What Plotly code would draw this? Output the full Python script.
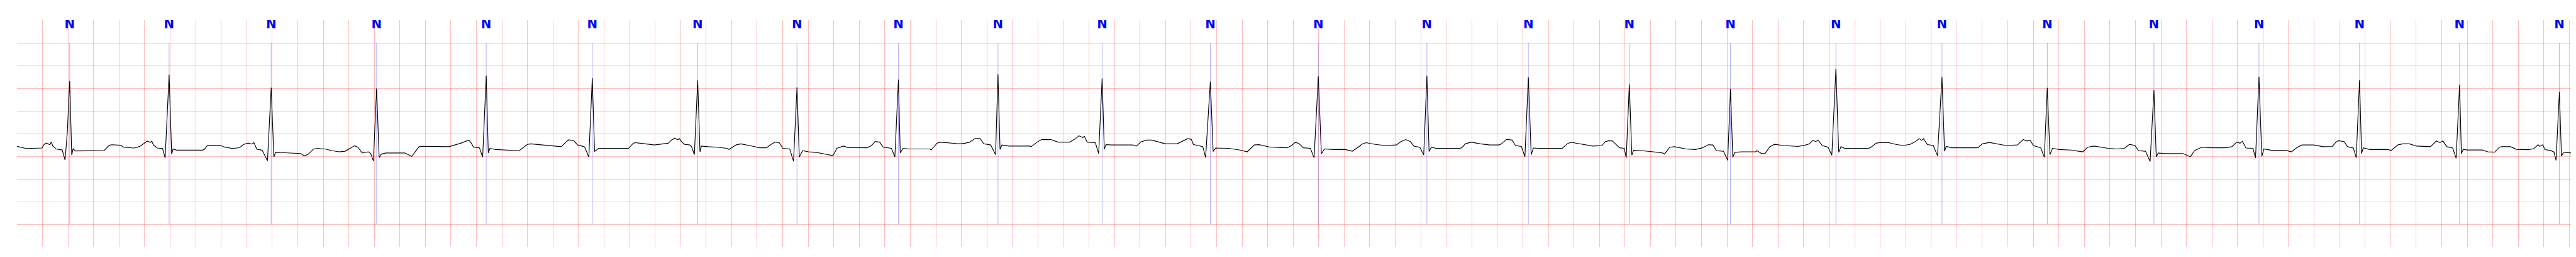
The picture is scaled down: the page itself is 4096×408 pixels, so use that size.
import plotly.graph_objects as go

# ---- ECG trace (time in s, amplitude in mV) ----
ecg_t = [
    0.000, 0.073, 0.196, 0.213, 0.231, 0.258, 0.269, 0.281, 0.306, 0.354, 0.377, 0.395, 0.413, 0.429, 0.440, 0.456,
    0.682, 0.723, 0.744, 0.812, 0.840, 0.922, 0.963, 0.990, 1.020, 1.045, 1.056, 1.070, 1.100, 1.141, 1.161, 1.192,
    1.212, 1.223, 1.250, 1.456, 1.469, 1.490, 1.510, 1.593, 1.620, 1.688, 1.743, 1.777, 1.812, 1.839, 1.857, 1.880,
    1.921, 1.963, 1.992, 2.013,
    2.026, 2.068, 2.141, 2.223, 2.251, 2.278, 2.324, 2.351, 2.415, 2.470, 2.525, 2.571, 2.617, 2.644, 2.672, 2.705,
    2.754, 2.772, 2.793, 2.818, 2.838, 2.855, 2.891, 3.038, 3.093, 3.151, 3.184, 3.386, 3.477, 3.541, 3.560, 3.578,
    3.624, 3.649, 3.677, 3.693, 3.706, 3.752, 3.935, 3.999, 4.027, 4.265, 4.301, 4.323, 4.365, 4.393, 4.448, 4.481,
    4.508, 4.526, 4.558, 4.792,
    4.829, 4.847, 4.994, 5.067, 5.103, 5.131, 5.155, 5.177, 5.191, 5.210, 5.232, 5.272, 5.286, 5.308, 5.334, 5.352,
    5.363, 5.415, 5.488, 5.561, 5.579, 5.634, 5.671, 5.762, 5.817, 5.872, 5.909, 5.942, 5.973, 6.001, 6.055, 6.085,
    6.112, 6.130, 6.156, 6.202, 6.257, 6.312, 6.367, 6.394, 6.425, 6.476, 6.513, 6.660, 6.696, 6.724, 6.760, 6.788,
    6.852, 6.879, 6.907, 6.921, 6.943, 6.989, 7.154, 7.163, 7.209, 7.227, 7.392, 7.429, 7.465, 7.511, 7.548, 7.575,
    7.630, 7.668,
    7.687, 7.703, 7.718, 7.773, 7.938, 7.947, 7.993, 8.029, 8.102, 8.157, 8.249, 8.295, 8.322, 8.350, 8.364, 8.386,
    8.450, 8.463, 8.476, 8.503, 8.520, 8.533, 8.578, 8.743, 8.771, 8.807, 8.853, 8.890, 8.945, 9.000, 9.091, 9.128,
    9.173, 9.201, 9.219, 9.256, 9.292, 9.314, 9.351, 9.373, 9.393, 9.494, 9.549, 9.585, 9.640, 9.695, 9.732, 9.823,
    9.952, 9.988, 10.016, 10.043, 10.080, 10.135, 10.164, 10.197, 10.221, 10.245, 10.318, 10.409, 10.464, 10.528,
    10.534, 10.571, 10.644, 10.717, 10.809, 10.845, 10.882, 10.918, 10.946, 10.992, 11.023, 11.048, 11.065, 11.083,
    11.120, 11.303, 11.321, 11.349, 11.394, 11.468, 11.541, 11.614, 11.632, 11.673, 11.715, 11.742, 11.788, 11.816,
    11.843, 11.865, 11.883, 11.925, 12.108, 12.154, 12.182, 12.273, 12.346, 12.420, 12.447, 12.475, 12.502, 12.520,
    12.557, 12.594, 12.610, 12.634, 12.654, 12.667, 12.731, 12.822, 12.896, 12.909, 12.951, 12.987, 13.079, 13.152,
    13.207, 13.253, 13.289, 13.317, 13.372, 13.405,
    13.427, 13.445, 13.460, 13.515, 13.625, 13.634, 13.670, 13.698, 13.735, 13.771, 13.844, 13.954, 14.009, 14.046,
    14.073, 14.092, 14.115, 14.146, 14.192, 14.221, 14.253, 14.275, 14.293, 14.320, 14.503, 14.522, 14.568, 14.595,
    14.668, 14.723, 14.778, 14.833, 14.870, 14.906, 14.925, 14.939, 14.970, 15.016, 15.049, 15.084, 15.104, 15.117,
    15.163, 15.364, 15.401, 15.455, 15.510, 15.584, 15.675, 15.721, 15.748, 15.776, 15.800, 15.858, 15.886, 15.909,
    15.930, 15.950, 16.005, 16.096, 16.188, 16.224, 16.276,
    16.331, 16.386, 16.459, 16.514, 16.541, 16.554, 16.596, 16.624, 16.679, 16.715, 16.745, 16.763, 16.779, 16.825,
    16.972, 17.008, 17.030, 17.063, 17.118, 17.191, 17.301, 17.356, 17.393, 17.420, 17.438, 17.466, 17.521, 17.541,
    17.568, 17.590, 17.607, 17.667, 17.777, 17.823, 17.869, 17.905, 17.997, 18.070, 18.143, 18.171, 18.189, 18.235,
    18.262, 18.308, 18.330, 18.356, 18.372, 18.385, 18.436, 18.583, 18.601, 18.656, 18.693, 18.747, 18.802, 18.912,
    18.958, 18.985, 19.009, 19.040, 19.086, 19.113,
    19.140, 19.154, 19.169, 19.200, 19.317, 19.361, 19.415, 19.451, 19.469, 19.540, 19.585, 19.675, 19.719, 19.755,
    19.768, 19.791, 19.809, 19.853, 19.880, 19.896, 19.922, 19.938, 19.952, 19.987, 20.032, 20.062,
]
ecg_mv = [
    -0.283, -0.330, -0.319, -0.239, -0.211, -0.247, -0.185, -0.276, -0.341, -0.362, -0.583, 0.050, 1.159, -0.474, -0.330, -0.384,
    -0.377, -0.258, -0.247, -0.258, -0.305, -0.319, -0.283, -0.232, -0.167, -0.196, -0.167, -0.258, -0.319, -0.330, -0.539, 1.297,
    -0.456, -0.341, -0.366, -0.366, -0.348, -0.268, -0.258, -0.258, -0.294, -0.330, -0.312, -0.240, -0.211, -0.232, -0.203, -0.348,
    -0.366, -0.601, 1.010, -0.517,
    -0.415, -0.420, -0.428, -0.441, -0.491, -0.466, -0.340, -0.330, -0.340, -0.378, -0.403, -0.390, -0.315, -0.269, -0.302, -0.428,
    -0.403, -0.441, -0.604, 0.994, -0.531, -0.453, -0.428, -0.428, -0.504, -0.290, -0.282, -0.290, -0.214, -0.144, -0.214, -0.302,
    -0.315, -0.521, 1.276, -0.428, -0.327, -0.352, -0.378, -0.239, -0.227, -0.290, -0.189, -0.138, -0.164, -0.252, -0.295, -0.521,
    1.221, -0.395, -0.327, -0.327,
    -0.214, -0.201, -0.252, -0.227, -0.214, -0.138, -0.101, -0.138, -0.113, -0.189, -0.239, -0.252, -0.290, -0.466, 1.171, -0.403,
    -0.277, -0.290, -0.302, -0.327, -0.352, -0.252, -0.227, -0.277, -0.315, -0.315, -0.239, -0.189, -0.201, -0.327, -0.340, -0.612,
    1.020, -0.516, -0.378, -0.403, -0.415, -0.441, -0.478, -0.486, -0.327, -0.277, -0.310, -0.315, -0.264, -0.176, -0.189, -0.302,
    -0.327, -0.516, 1.188, -0.428, -0.327, -0.340, -0.340, -0.365, -0.214, -0.189, -0.227, -0.214, -0.189, -0.101, -0.113, -0.227,
    -0.252, -0.466,
    1.304, -0.352, -0.252, -0.277, -0.277, -0.290, -0.189, -0.133, -0.133, -0.189, -0.189, -0.113, -0.050, -0.088, -0.063, -0.189,
    -0.201, -0.315, -0.441, 1.219, -0.345, -0.244, -0.252, -0.252, -0.277, -0.184, -0.144, -0.144, -0.189, -0.227, -0.227, -0.176,
    -0.113, -0.126, -0.244, -0.264, -0.290, -0.529, 1.146, -0.395, -0.320, -0.327, -0.352, -0.365, -0.403, -0.252, -0.244, -0.302,
    -0.315, -0.264, -0.196, -0.214, -0.315, -0.327, -0.536, 1.259, -0.446, -0.340, -0.352, -0.352, -0.390, -0.264,
    -0.239, -0.201, -0.239, -0.264, -0.252, -0.176, -0.133, -0.176, -0.277, -0.302, -0.471, 1.271, -0.395, -0.302,
    -0.327, -0.327, -0.315, -0.227, -0.189, -0.227, -0.252, -0.252, -0.227, -0.126, -0.144, -0.264, -0.284, -0.511,
    1.241, -0.466, -0.320, -0.327, -0.327, -0.214, -0.194, -0.239, -0.277, -0.264, -0.176, -0.159, -0.164, -0.214,
    -0.315, -0.327, -0.536, 1.083, -0.478, -0.370, -0.378, -0.403, -0.428, -0.453, -0.302, -0.290, -0.340, -0.352,
    -0.315, -0.247, -0.252, -0.378, -0.390, -0.590,
    0.982, -0.529, -0.415, -0.403, -0.403, -0.378, -0.441, -0.441, -0.290, -0.239, -0.264, -0.284, -0.259, -0.227,
    -0.144, -0.176, -0.151, -0.264, -0.302, -0.478, 1.422, -0.415, -0.290, -0.327, -0.327, -0.315, -0.214, -0.201,
    -0.201, -0.239, -0.264, -0.239, -0.189, -0.113, -0.151, -0.113, -0.244, -0.264, -0.491, 1.246, -0.390, -0.284,
    -0.315, -0.315, -0.227, -0.196, -0.227, -0.264, -0.252, -0.131, -0.164, -0.151, -0.264, -0.315, -0.521, 1.007,
    -0.466, -0.327, -0.352, -0.365, -0.403, -0.302, -0.277,
    -0.302, -0.327, -0.340, -0.327, -0.264, -0.239, -0.264, -0.378, -0.390, -0.617, 0.957, -0.516, -0.428, -0.441,
    -0.441, -0.478, -0.511, -0.378, -0.302, -0.315, -0.315, -0.290, -0.189, -0.214, -0.171, -0.320, -0.327, -0.541,
    1.254, -0.504, -0.340, -0.370, -0.370, -0.403, -0.302, -0.252, -0.252, -0.290, -0.284, -0.189, -0.159, -0.176,
    -0.290, -0.320, -0.536, 1.178, -0.441, -0.315, -0.352, -0.352, -0.378, -0.252, -0.227, -0.227, -0.277, -0.290,
    -0.164, -0.201, -0.164, -0.290, -0.320, -0.545,
    1.072, -0.446, -0.348, -0.363, -0.363, -0.403, -0.410, -0.301, -0.290, -0.290, -0.348, -0.355, -0.337, -0.247,
    -0.283, -0.247, -0.355, -0.373, -0.410, -0.591, 0.920, -0.500, -0.427, -0.420, -0.435, -0.427,
]

# ---- beat annotations ----
beat_times = [
    0.413, 1.192, 1.992, 2.818, 3.677, 4.508, 5.334, 6.112, 6.907, 7.687, 8.503, 9.351, 10.197,
    11.048, 11.843, 12.634, 13.427, 14.253, 15.084, 15.909, 16.745, 17.568, 18.356, 19.140, 19.922,
]
beat_symbols = ["N"] * len(beat_times)

# ---- axes / grid ----
x_range = [0.0, 20.062]
y_range = [-2.5, 2.5]
x_grid = [round(0.2 * i, 1) for i in range(101)]
y_grid = [-2.5, -2.0, -1.5, -1.0, -0.5, 0.0, 0.5, 1.0, 1.5, 2.0]

fig = go.Figure()

lx, ly = [], []
for t in beat_times:
    lx += [t, t, None]
    ly += [-2.0, 2.0, None]
fig.add_trace(go.Scatter(x=lx, y=ly, mode="lines",
                         line=dict(color="rgba(40,40,255,0.6)", width=0.6),
                         hoverinfo="skip", showlegend=False))

fig.add_trace(go.Scatter(x=ecg_t, y=ecg_mv, mode="lines",
                         line=dict(color="black", width=1.15),
                         showlegend=False))

fig.add_trace(go.Scatter(x=beat_times, y=[2.4] * len(beat_times), mode="text",
                         text=beat_symbols,
                         textfont=dict(family="Liberation Sans Narrow, DejaVu Sans Condensed, Arial Narrow, sans-serif",
                                       size=22, color="#0000ff", weight="bold"),
                         textposition="middle center",
                         hoverinfo="skip", showlegend=False))

grid_color = "rgba(255,0,0,0.25)"
fig.update_layout(
    width=4096, height=408,
    margin=dict(l=18.5, r=6, t=24, b=24),
    paper_bgcolor="white", plot_bgcolor="white",
    xaxis=dict(range=x_range, tickvals=x_grid, showticklabels=False, ticks="",
               showgrid=True, gridcolor=grid_color, gridwidth=1.1,
               zeroline=False, showline=False, fixedrange=True),
    yaxis=dict(range=y_range, tickvals=y_grid, showticklabels=False, ticks="",
               showgrid=True, gridcolor=grid_color, gridwidth=1.1,
               zeroline=False, showline=False, fixedrange=True),
)

fig.write_html("out.html")
